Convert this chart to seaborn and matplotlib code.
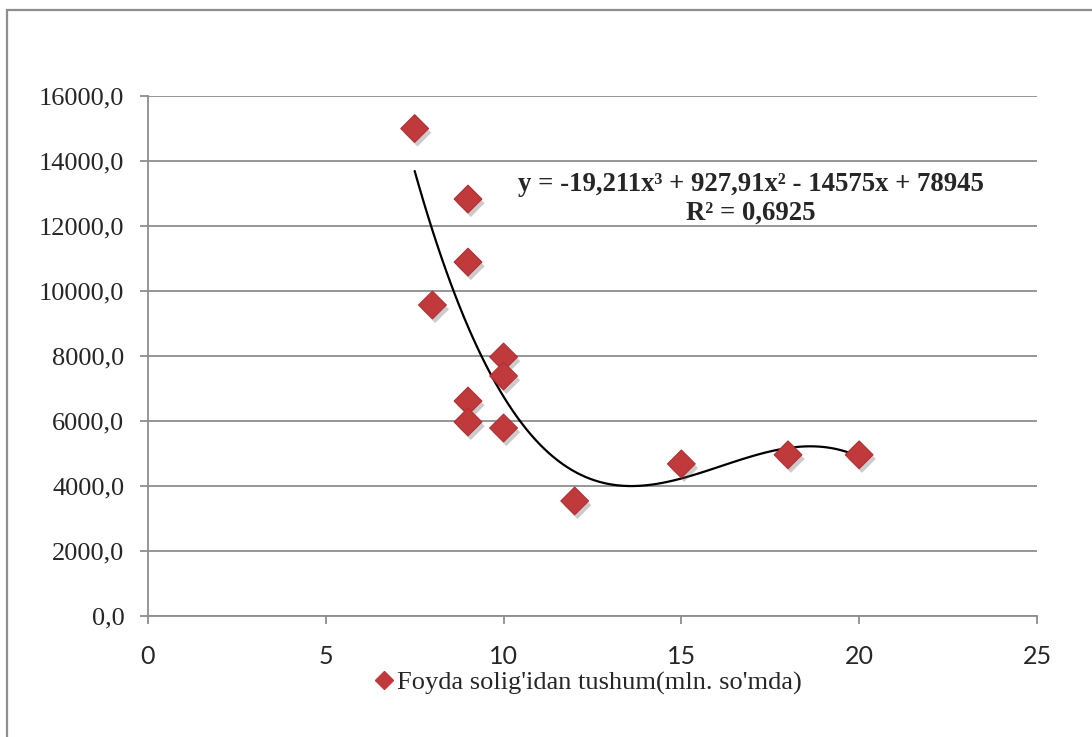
# recreate scatter of tax revenue vs x with cubic trend line
import numpy as np
import pandas as pd
import matplotlib
matplotlib.use('Agg')
import matplotlib.pyplot as plt
import matplotlib.patheffects as pe
from matplotlib.ticker import FuncFormatter
import seaborn as sns

# data
x_vals = [7.5, 8, 9, 9, 9, 9, 10, 10, 10, 12, 15, 18, 20]
y_vals = [15000, 9570, 12830, 10890, 6615, 5970, 7970, 7385, 5785, 3540, 4680, 4960, 4960]
series_name = "Foyda solig'idan tushum(mln. so'mda)"
eq_text = "y = -19,211x³ + 927,91x² - 14575x + 78945"
r2_text = "R² = 0,6925"
y_ticks = [0, 2000, 4000, 6000, 8000, 10000, 12000, 14000, 16000]
x_ticks = [0, 5, 10, 15, 20, 25]

df = pd.DataFrame({'x': x_vals, 'y': y_vals})

sns.set_theme(style='white')
plt.rcParams['font.family'] = ['Liberation Serif', 'DejaVu Serif']

fig = plt.figure(figsize=(10.92, 7.37), dpi=100)
ax = fig.add_axes([0.1355, 0.1642, 0.8141, 0.7055])

grey = '#8e8e8e'
red = '#c0393b'

# trend line (cubic fit, like the spreadsheet trendline)
sns.regplot(data=df, x='x', y='y', order=3, ci=None, scatter=False, truncate=True,
            line_kws={'color': 'black', 'lw': 1.6}, ax=ax)

sns.scatterplot(data=df, x='x', y='y', marker='D', s=200, color=red,
                edgecolor='#b03034', linewidth=0.8, zorder=5, ax=ax,
                label=series_name, legend=False)
for coll in ax.collections:
    coll.set_path_effects([pe.SimplePatchShadow(offset=(2, -3), alpha=0.3, shadow_rgbFace='#555555'),
                           pe.Normal()])

ax.set_xlim(0, 25)
ax.set_ylim(0, 16000)
ax.set_xticks(x_ticks)
ax.set_yticks(y_ticks)
ax.yaxis.set_major_formatter(FuncFormatter(lambda v, p: f"{v:.1f}".replace('.', ',')))
ax.set_xlabel('')
ax.set_ylabel('')
ax.grid(axis='y', color=grey, lw=1.3)
ax.set_axisbelow(True)
for side in ['top', 'right']:
    ax.spines[side].set_visible(False)
for side in ['left', 'bottom']:
    ax.spines[side].set_color(grey)
    ax.spines[side].set_linewidth(1.3)
ax.tick_params(axis='y', which='major', direction='out', length=6, width=1.3, color=grey,
               pad=11, labelsize=19, left=True)
ax.tick_params(axis='x', which='major', direction='out', length=6, width=1.3, color=grey,
               pad=15, labelsize=18, bottom=True)
for lab in ax.get_xticklabels():
    lab.set_family(['Lato', 'DejaVu Sans'])

ax.text(0.678, 0.829, eq_text, transform=ax.transAxes, ha='center', va='center',
        fontsize=19.3, fontweight='bold')
ax.text(0.678, 0.775, r2_text, transform=ax.transAxes, ha='center', va='center',
        fontsize=19.3, fontweight='bold')

handle = plt.Line2D([], [], marker='D', ls='', color=red, markersize=9.5)
fig.legend([handle], [series_name], loc='center', bbox_to_anchor=(0.538, 0.073),
           frameon=False, fontsize=19, handlelength=0.8, handletextpad=0.1, borderpad=0)

# outer chart border
fig.patches.append(plt.Rectangle((7 / 1092, -0.1), 1.2, 1.1 - 10 / 737, transform=fig.transFigure,
                                 fill=False, edgecolor=grey, lw=1.6))

fig.savefig('out.png', dpi=100)
